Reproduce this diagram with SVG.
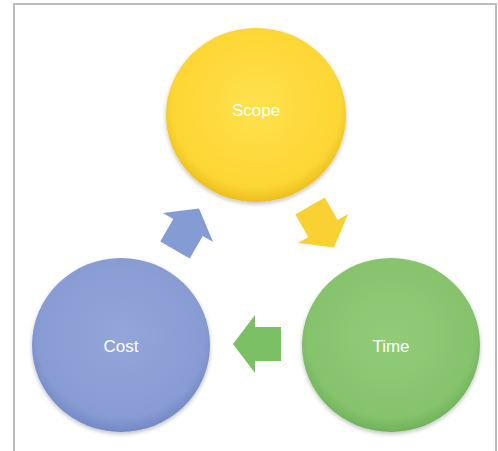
<svg xmlns="http://www.w3.org/2000/svg" width="498" height="451" viewBox="0 0 498 451">
<defs>
<radialGradient id="gy" cx="50%" cy="45%" r="55%">
<stop offset="0" stop-color="#FFE14D"/><stop offset="0.85" stop-color="#FCD633"/><stop offset="1" stop-color="#EBBE1E"/>
</radialGradient>
<radialGradient id="gg" cx="50%" cy="45%" r="55%">
<stop offset="0" stop-color="#93CC78"/><stop offset="0.85" stop-color="#86C36C"/><stop offset="1" stop-color="#6FB25A"/>
</radialGradient>
<radialGradient id="gb" cx="50%" cy="45%" r="55%">
<stop offset="0" stop-color="#93A6DA"/><stop offset="0.85" stop-color="#889CD3"/><stop offset="1" stop-color="#7389C6"/>
</radialGradient>
<filter id="sh" x="-20%" y="-20%" width="140%" height="140%">
<feGaussianBlur in="SourceAlpha" stdDeviation="2"/><feOffset dy="2"/><feComponentTransfer><feFuncA type="linear" slope="0.25"/></feComponentTransfer>
<feMerge><feMergeNode/><feMergeNode in="SourceGraphic"/></feMerge>
</filter>
<polygon id="arr" points="0,-17 26,-17 26,-29 48,0 26,29 26,17 0,17"/>
</defs>
<style>
.frame{fill:none;stroke:#BDBDBD;stroke-width:2}
.lbl{font-family:"Liberation Sans",Arial,sans-serif;font-size:17px;fill:#FFFFFF;text-anchor:middle}
</style>
<path class="frame" d="M14,451 V4 H496 V451"/>
<g id="connectors">
<use href="#arr" transform="translate(310,206) rotate(60)" fill="#F9D133"/>
<use href="#arr" transform="translate(281,344) rotate(180)" fill="#7CC066"/>
<use href="#arr" transform="translate(175,250) rotate(-60)" fill="#859BD4"/>
</g>
<g id="scope">
<ellipse cx="256" cy="115" rx="90" ry="87" fill="url(#gy)" filter="url(#sh)"/>
<text class="lbl" x="256" y="116">Scope</text>
</g>
<g id="cost">
<ellipse cx="121" cy="345" rx="89" ry="87" fill="url(#gb)" filter="url(#sh)"/>
<text class="lbl" x="121" y="352">Cost</text>
</g>
<g id="time">
<ellipse cx="391" cy="345" rx="89" ry="87" fill="url(#gg)" filter="url(#sh)"/>
<text class="lbl" x="391" y="352">Time</text>
</g>
</svg>
